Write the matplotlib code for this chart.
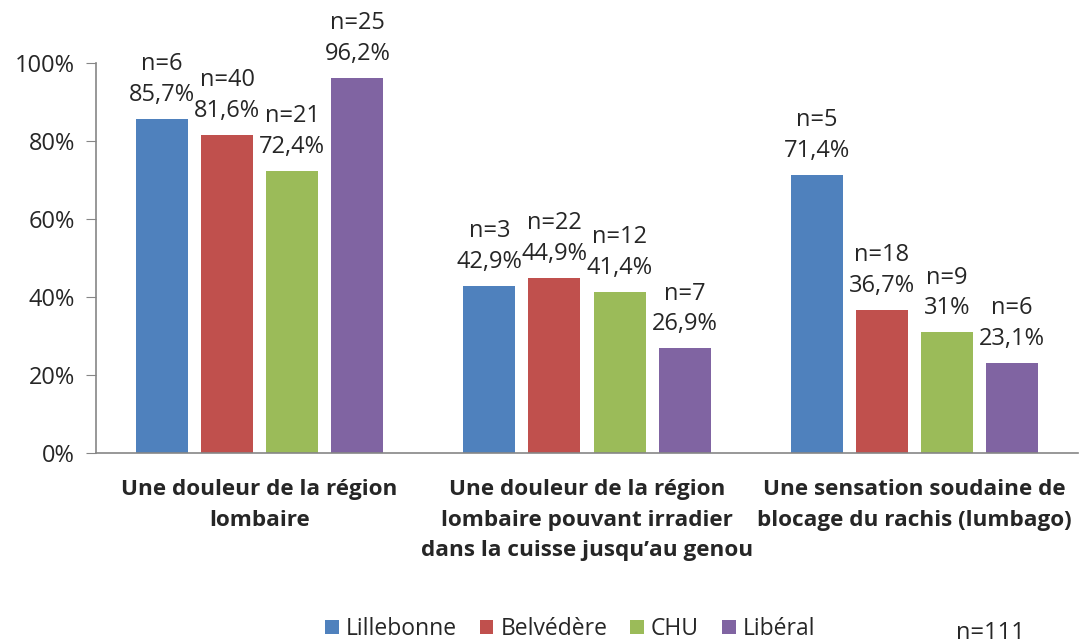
import matplotlib.pyplot as plt
import numpy as np

categories = ["Une douleur de la région\nlombaire",
              "Une douleur de la région\nlombaire pouvant irradier\ndans la cuisse jusqu\u2019au genou",
              "Une sensation soudaine de\nblocage du rachis (lumbago)"]
series = ["Lillebonne", "Belvédère", "CHU", "Libéral"]
values = {
    "Lillebonne": [85.7, 42.9, 71.4],
    "Belvédère": [81.6, 44.9, 36.7],
    "CHU": [72.4, 41.4, 31.0],
    "Libéral": [96.2, 26.9, 23.1],
}
counts = {
    "Lillebonne": [6, 3, 5],
    "Belvédère": [40, 22, 18],
    "CHU": [21, 12, 9],
    "Libéral": [25, 7, 6],
}
labels_pct = {
    "Lillebonne": ["85,7%", "42,9%", "71,4%"],
    "Belvédère": ["81,6%", "44,9%", "36,7%"],
    "CHU": ["72,4%", "41,4%", "31%"],
    "Libéral": ["96,2%", "26,9%", "23,1%"],
}
colors = ["#4F81BD", "#C0504D", "#9BBB59", "#8064A2"]
yticks = [0, 20, 40, 60, 80, 100]
total_label = "n=111"

plt.rcParams['font.family'] = ['Open Sans', 'DejaVu Sans']
fig = plt.figure(figsize=(10.82, 6.43), dpi=100)
ax = fig.add_axes([96/1082, 1-453/643, (1078-96)/1082, (453-63)/643])

x = np.arange(len(categories))
step = 0.199
width = 0.159
for i, s in enumerate(series):
    pos = x + (i - 1.5) * step
    ax.bar(pos, values[s], width, color=colors[i], label=s)
    for p, v, n, l in zip(pos, values[s], counts[s], labels_pct[s]):
        ax.text(p, v + 3.0, f"n={n}\n{l}", ha='center', va='bottom', fontsize=17,
                color='#262626', linespacing=1.38, clip_on=False)

ax.set_xlim(-0.5, 2.5)
ax.set_ylim(0, 100)
ax.set_yticks(yticks)
ax.set_yticklabels([f"{t}%" for t in yticks], fontsize=17, color='#262626')
ax.set_xticks(x)
ax.set_xticklabels(categories, fontsize=16.2, fontweight='bold', color='#262626', linespacing=1.58)
ax.tick_params(axis='x', length=0, pad=19)
ax.tick_params(axis='y', length=7, color='#868686', pad=8)
for sp in ['top', 'right']:
    ax.spines[sp].set_visible(False)
for sp in ['left', 'bottom']:
    ax.spines[sp].set_color('#868686')
    ax.spines[sp].set_linewidth(1.2)

leg = fig.legend(loc='center', bbox_to_anchor=(570/1082, 1-629/643), ncol=4, frameon=False,
                 fontsize=16.5, handlelength=0.6, handleheight=0.6, handletextpad=0.3, columnspacing=1.0)
for t in leg.get_texts():
    t.set_color('#262626')
fig.text(990/1082, 1-633/643, total_label, ha='center', va='center', fontsize=17, color='#262626')

fig.savefig("out.png", dpi=100)
